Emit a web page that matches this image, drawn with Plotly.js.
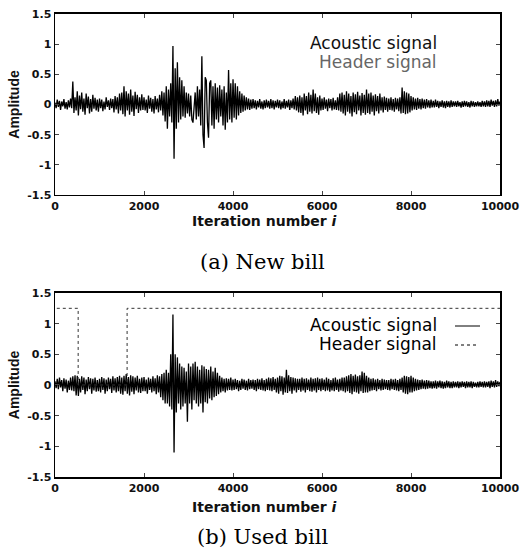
<!DOCTYPE html>
<html><head><meta charset="utf-8">
<script src="https://cdn.plot.ly/plotly-3.0.1.min.js"></script>
<style>html,body{margin:0;padding:0;background:#fff;}#c{width:528px;height:553px;}</style>
</head><body><div id="c"></div>
<script>
const STEP = 25; // sample spacing of the read-off values (iterations)
const xTicks = [0, 2000, 4000, 6000, 8000, 10000];
const yTicks = [-1.5, -1, -0.5, 0, 0.5, 1, 1.5];
const yTickText = ['-1.5', '-1', '-0.5', '0', '0.5', '1', '1.5'];

// (a) New bill - acoustic signal, values every 25 iterations
const newBillAcoustic = [
 0.03,-0.06,0.08,-0.04,0.06,-0.09,0.05,-0.03,0.09,-0.07,0.04,-0.08,0.07,-0.05,0.1,-0.06,0.38,-0.14,0.12,-0.1,
 0.22,-0.18,0.15,-0.08,0.2,-0.12,0.1,-0.17,0.18,-0.06,0.13,-0.15,0.09,-0.12,0.16,-0.07,0.11,-0.1,0.08,-0.12,
 0.1,-0.06,0.08,-0.11,0.05,-0.08,0.12,-0.04,0.07,-0.09,0.1,-0.06,0.09,-0.13,0.14,-0.08,0.12,-0.15,0.18,-0.1,
 0.2,-0.16,0.3,-0.2,0.22,-0.1,0.18,-0.17,0.25,-0.12,0.15,-0.19,0.21,-0.08,0.16,-0.14,0.12,-0.1,0.17,-0.09,
 0.12,-0.1,0.08,-0.14,0.15,-0.07,0.11,-0.12,0.09,-0.15,0.14,-0.08,0.1,-0.13,0.16,-0.1,0.22,-0.18,0.2,-0.28,
 0.3,-0.4,0.25,-0.2,0.35,-0.3,0.97,-0.9,0.6,-0.4,0.7,-0.3,0.45,-0.25,0.4,-0.2,0.3,-0.22,0.2,-0.15,
 0.18,-0.2,0.15,-0.25,-0.3,-0.1,0.2,-0.25,0.3,-0.2,0.25,-0.35,0.8,-0.5,-0.72,0.45,0.4,-0.3,-0.55,0.35,
 0.4,-0.35,0.3,-0.4,0.35,-0.25,0.28,-0.3,0.32,-0.2,0.25,-0.35,0.3,-0.42,0.2,-0.3,0.57,-0.25,0.35,-0.3,
 0.42,-0.22,0.35,-0.25,0.3,-0.18,0.22,-0.14,0.18,-0.12,0.15,-0.1,0.12,-0.08,0.1,-0.09,0.08,-0.07,0.09,-0.06,
 0.07,-0.08,0.06,-0.05,0.09,-0.07,0.05,-0.08,0.07,-0.06,0.08,-0.05,0.06,-0.07,0.09,-0.06,0.07,-0.08,0.06,-0.05,
 0.08,-0.06,0.07,-0.08,0.05,-0.06,0.09,-0.07,0.06,-0.05,0.08,-0.09,0.07,-0.06,0.1,-0.08,0.14,-0.1,0.12,-0.13,
 0.15,-0.14,0.12,-0.18,0.18,-0.1,0.14,-0.16,0.2,-0.12,0.16,-0.15,0.25,-0.11,0.18,-0.14,0.12,-0.17,0.15,-0.1,
 0.1,-0.09,0.12,-0.07,0.08,-0.11,0.1,-0.06,0.09,-0.1,0.11,-0.08,0.07,-0.09,0.12,-0.1,0.18,-0.12,0.2,-0.15,
 0.16,-0.18,0.22,-0.12,0.18,-0.15,0.14,-0.2,0.2,-0.13,0.17,-0.16,0.21,-0.1,0.15,-0.18,0.19,-0.14,0.16,-0.17,
 0.25,-0.14,0.18,-0.16,0.2,-0.12,0.15,-0.18,0.17,-0.11,0.14,-0.15,0.18,-0.1,0.12,-0.13,0.13,-0.09,0.11,-0.12,
 0.1,-0.09,0.12,-0.1,0.09,-0.12,0.11,-0.08,0.1,-0.11,0.12,-0.15,0.28,-0.14,0.22,-0.16,0.2,-0.15,0.18,-0.13,
 0.14,-0.1,0.12,-0.08,0.1,-0.09,0.11,-0.07,0.09,-0.08,0.1,-0.06,0.08,-0.07,0.09,-0.05,0.07,-0.06,0.08,-0.05,
 0.06,-0.05,0.08,-0.04,0.06,-0.06,0.05,-0.04,0.07,-0.05,0.05,-0.06,0.06,-0.04,0.05,-0.05,0.07,-0.04,0.05,-0.03,
 0.05,-0.04,0.06,-0.03,0.04,-0.05,0.05,-0.04,0.06,-0.03,0.05,-0.04,0.04,-0.05,0.06,-0.03,0.05,-0.04,0.04,-0.03,
 0.05,-0.03,0.04,-0.04,0.06,-0.03,0.05,-0.04,0.07,-0.03,0.06,-0.04,0.08,-0.02,0.06,-0.04,0.07,-0.03,0.09,-0.02,0.05
];

// (b) Used bill - acoustic signal, values every 25 iterations
const usedBillAcoustic = [
 0.06,-0.05,0.1,-0.07,0.12,-0.04,0.08,-0.1,0.11,-0.06,0.09,-0.12,0.07,-0.08,0.12,-0.09,0.14,-0.1,0.16,-0.17,
 0.15,-0.18,0.1,-0.12,0.14,-0.08,0.12,-0.15,0.09,-0.1,0.13,-0.07,0.11,-0.14,0.1,-0.09,0.12,-0.11,0.08,-0.1,
 0.1,-0.12,0.13,-0.08,0.11,-0.14,0.09,-0.1,0.12,-0.07,0.1,-0.13,0.14,-0.09,0.11,-0.12,0.13,-0.1,0.15,-0.14,
 0.12,-0.16,0.15,-0.1,0.18,-0.14,0.13,-0.17,0.16,-0.11,0.14,-0.15,0.12,-0.09,0.15,-0.12,0.1,-0.13,0.12,-0.1,
 0.13,-0.1,0.09,-0.14,0.12,-0.08,0.1,-0.12,0.14,-0.1,0.11,-0.15,0.16,-0.12,0.14,-0.2,0.18,-0.25,0.2,-0.3,
 0.25,-0.3,0.2,-0.35,0.5,-0.4,1.15,-1.1,0.5,-0.45,0.45,-0.3,0.35,-0.4,0.3,-0.35,0.28,-0.3,0.22,-0.6,
 0.35,-0.3,0.3,-0.4,0.35,-0.25,0.38,-0.3,0.3,-0.35,0.25,-0.3,0.32,-0.45,0.3,-0.28,0.26,-0.3,0.25,-0.22,
 0.3,-0.25,0.22,-0.2,0.28,-0.18,0.2,-0.15,0.15,-0.12,0.12,-0.1,0.1,-0.12,0.11,-0.09,0.1,-0.08,0.12,-0.09,
 0.09,-0.08,0.1,-0.07,0.08,-0.1,0.07,-0.08,0.1,-0.06,0.09,-0.08,0.07,-0.09,0.1,-0.07,0.08,-0.06,0.09,-0.08,
 0.08,-0.1,0.1,-0.07,0.09,-0.08,0.11,-0.09,0.08,-0.1,0.1,-0.08,0.12,-0.09,0.11,-0.1,0.13,-0.08,0.1,-0.12,
 0.12,-0.14,0.15,-0.1,0.14,-0.16,0.12,-0.12,0.25,-0.13,0.16,-0.1,0.13,-0.14,0.12,-0.09,0.11,-0.12,0.1,-0.08,
 0.1,-0.11,0.12,-0.09,0.1,-0.12,0.11,-0.08,0.09,-0.1,0.12,-0.11,0.1,-0.09,0.11,-0.12,0.12,-0.08,0.1,-0.1,
 0.11,-0.08,0.09,-0.1,0.12,-0.09,0.1,-0.11,0.08,-0.09,0.11,-0.1,0.12,-0.08,0.09,-0.11,0.1,-0.09,0.12,-0.1,
 0.12,-0.12,0.14,-0.1,0.16,-0.13,0.18,-0.15,0.15,-0.11,0.17,-0.12,0.14,-0.14,0.16,-0.1,0.22,-0.13,0.2,-0.12,
 0.15,-0.12,0.12,-0.1,0.1,-0.09,0.11,-0.08,0.09,-0.1,0.1,-0.07,0.08,-0.09,0.1,-0.08,0.09,-0.07,0.08,-0.08,
 0.08,-0.09,0.1,-0.07,0.09,-0.08,0.1,-0.09,0.08,-0.1,0.1,-0.08,0.12,-0.12,0.15,-0.14,0.14,-0.15,0.13,-0.12,
 0.15,-0.12,0.12,-0.1,0.1,-0.09,0.09,-0.08,0.08,-0.07,0.09,-0.06,0.07,-0.07,0.08,-0.06,0.07,-0.05,0.06,-0.06,
 0.06,-0.05,0.07,-0.06,0.06,-0.04,0.07,-0.05,0.06,-0.06,0.05,-0.05,0.07,-0.04,0.06,-0.05,0.05,-0.05,0.06,-0.04,
 0.05,-0.04,0.06,-0.05,0.05,-0.04,0.06,-0.03,0.05,-0.05,0.06,-0.04,0.05,-0.04,0.06,-0.05,0.05,-0.03,0.04,-0.04,
 0.05,-0.04,0.06,-0.03,0.05,-0.04,0.06,-0.04,0.05,-0.03,0.06,-0.05,0.07,-0.03,0.06,-0.04,0.08,-0.03,0.06,-0.02,0.05
];

// (b) Used bill - header signal (step changes)
const headerX = [40, 520, 1620, 10000];
const headerY = [1.25, 0, 1.25, 1.25];

const iterA = newBillAcoustic.map((v, i) => i * STEP);
const iterB = usedBillAcoustic.map((v, i) => i * STEP);

const tickFont = {family: 'DejaVu Sans, sans-serif', size: 11, color: '#111', weight: 'bold'};
const titleFont = {family: 'DejaVu Sans, sans-serif', size: 14, color: '#111', weight: 'bold'};

function xax(anchor) {
  return {domain: [0.1042, 0.947], range: [0, 10000], anchor: anchor,
    tickvals: xTicks, ticktext: xTicks.map(String), ticks: 'inside', ticklen: 4,
    showline: true, linecolor: '#000', linewidth: 1.5, mirror: 'ticks',
    showgrid: false, zeroline: false, tickfont: tickFont};
}
function yax(anchor, dom) {
  return {domain: dom, range: [-1.5, 1.5], anchor: anchor,
    tickvals: yTicks, ticktext: yTickText, ticks: 'inside', ticklen: 4,
    showline: true, linecolor: '#000', linewidth: 1.5, mirror: 'ticks',
    showgrid: false, zeroline: false, tickfont: tickFont,
    title: {text: 'Amplitude', font: {family: 'Liberation Sans Narrow, Liberation Sans, Arial, sans-serif', size: 14, color: '#111', weight: 'bold'}, standoff: 4}};
}

const data = [
  {x: iterA, y: newBillAcoustic, type: 'scatter', mode: 'lines', xaxis: 'x', yaxis: 'y',
   line: {color: '#000', width: 1.3}, showlegend: false},
  {x: iterB, y: usedBillAcoustic, type: 'scatter', mode: 'lines', xaxis: 'x2', yaxis: 'y2',
   line: {color: '#000', width: 1.3}, showlegend: false},
  {x: headerX, y: headerY, type: 'scatter', mode: 'lines', xaxis: 'x2', yaxis: 'y2',
   line: {color: '#333', width: 1, dash: 'dot', shape: 'hv'}, showlegend: false}
];

const legFont = {family: 'DejaVu Sans, sans-serif', size: 17, color: '#111'};
const capFont = {family: 'DejaVu Serif, serif', size: 21, color: '#000'};
function ann(text, x, ypx, font, xanchor) {
  return {text: text, xref: 'paper', yref: 'paper', x: x, y: 1 - ypx/553,
    xanchor: xanchor || 'center', yanchor: 'middle', showarrow: false, font: font};
}
const layout = {
  width: 528, height: 553, margin: {l: 0, r: 0, t: 0, b: 0},
  paper_bgcolor: '#fff', plot_bgcolor: '#fff', showlegend: false,
  xaxis: xax('y'), yaxis: yax('x', [0.6474, 0.9747]),
  xaxis2: xax('y2'), yaxis2: yax('x2', [0.1374, 0.4702]),
  annotations: [
    ann('Acoustic signal', 0.832, 43, legFont, 'right'),
    ann('Header signal', 0.832, 62, Object.assign({}, legFont, {color: '#666'}), 'right'),
    ann('Acoustic signal', 0.832, 325, Object.assign({}, legFont, {color: '#000'}), 'right'),
    ann('Header signal', 0.832, 344, Object.assign({}, legFont, {color: '#000'}), 'right'),
    ann('Iteration number <i>i</i>', 264/528, 221, titleFont),
    ann('Iteration number <i>i</i>', 264/528, 507, titleFont),
    ann('(a) New bill', 262/528, 262, capFont),
    ann('(b) Used bill', 262/528, 537, capFont)
  ],
  shapes: [
    {type: 'line', xref: 'paper', yref: 'paper', x0: 455/528, x1: 480/528, y0: 1 - 326/553, y1: 1 - 326/553, line: {color: '#000', width: 1}},
    {type: 'line', xref: 'paper', yref: 'paper', x0: 455/528, x1: 479/528, y0: 1 - 345/553, y1: 1 - 345/553, line: {color: '#000', width: 1, dash: 'dot'}}
  ]
};
Plotly.newPlot('c', data, layout, {staticPlot: true, displayModeBar: false});
</script></body></html>
